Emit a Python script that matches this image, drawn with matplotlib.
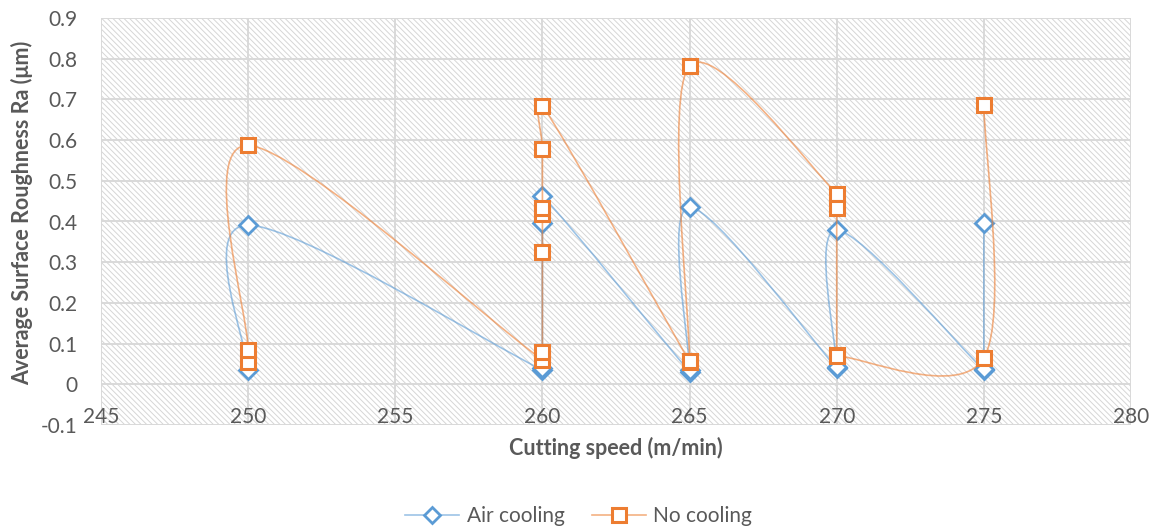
import numpy as np
import matplotlib
matplotlib.use("Agg")
import matplotlib.pyplot as plt
from matplotlib.path import Path
from matplotlib.patches import PathPatch, Rectangle
from matplotlib.lines import Line2D

# surface roughness measurements, in the order they were recorded
speed_air = [250, 250, 260, 260, 260, 260, 265, 265, 265, 270, 270, 270, 275, 275, 275]
ra_air = [0.035, 0.391, 0.035, 0.040, 0.397, 0.463, 0.030, 0.035, 0.435,
          0.040, 0.043, 0.379, 0.035, 0.037, 0.397]

speed_no = [250, 250, 250, 260, 260, 260, 260, 260, 260, 260,
            265, 265, 265, 270, 270, 270, 270, 275, 275]
ra_no = [0.055, 0.085, 0.587, 0.060, 0.079, 0.326, 0.418, 0.433, 0.578, 0.685,
         0.055, 0.057, 0.782, 0.468, 0.432, 0.072, 0.070, 0.065, 0.686]

x_ticks = [245, 250, 255, 260, 265, 270, 275, 280]
y_ticks = [-0.1, 0, 0.1, 0.2, 0.3, 0.4, 0.5, 0.6, 0.7, 0.8, 0.9]
y_tick_labels = ["-0.1", "0", "0.1", "0.2", "0.3", "0.4", "0.5", "0.6", "0.7", "0.8", "0.9"]

BLUE = "#5B9BD5"
ORANGE = "#ED7D31"
TEXT = "#595959"
GRID = "#D9D9D9"

plt.rcParams['font.family'] = ['Lato', 'DejaVu Sans']
plt.rcParams['hatch.linewidth'] = 0.7


def smooth_path(ax, xs, ys):
    # spreadsheet-style smoothed line: cubic bezier per segment, tangents from neighbours
    pts = ax.transData.transform(np.column_stack([xs, ys]))
    n = len(pts)
    verts = [pts[0]]
    codes = [Path.MOVETO]
    for i in range(n - 1):
        p0 = pts[i - 1] if i > 0 else pts[i]
        p1 = pts[i]
        p2 = pts[i + 1]
        p3 = pts[i + 2] if i + 2 < n else pts[i + 1]
        d12 = np.linalg.norm(p2 - p1)
        d02 = np.linalg.norm(p2 - p0)
        d13 = np.linalg.norm(p3 - p1)
        f1 = f2 = 1 / 6
        if d02 > 0 and d02 / 6 > d12 / 2:
            f1 = d12 / (2 * d02)
        if d13 > 0 and d13 / 6 > d12 / 2:
            f2 = d12 / (2 * d13)
        verts += [p1 + f1 * (p2 - p0), p2 - f2 * (p3 - p1), p2]
        codes += [Path.CURVE4] * 3
    verts = ax.transData.inverted().transform(np.array(verts))
    return Path(verts, codes)


fig = plt.figure(figsize=(11.57, 5.26), dpi=100)
ax = fig.add_axes([101 / 1157, 1 - 425 / 526, 1030 / 1157, 407 / 526])
ax.set_xlim(245, 280)
ax.set_ylim(-0.1, 0.9)

# hatched plot area
ax.add_patch(Rectangle((0, 0), 1, 1, transform=ax.transAxes, facecolor="white",
                       edgecolor="#D6D6D6", hatch="\\" * 6, linewidth=0, zorder=0.1))

ax.set_axisbelow(True)
ax.grid(True, color=GRID, linewidth=1.4)
for s in ax.spines.values():
    s.set_visible(False)
ax.spines['bottom'].set_position(('data', 0))

ax.set_xticks(x_ticks)
ax.set_xticklabels([str(v) for v in x_ticks])
ax.set_yticks(y_ticks)
ax.set_yticklabels(y_tick_labels)
ax.tick_params(axis='both', length=0, labelsize=15, colors=TEXT)
ax.tick_params(axis='x', pad=16)
ax.tick_params(axis='y', pad=17)

ax.set_xlabel("Cutting speed (m/min)", fontsize=15.5, fontweight="bold", color=TEXT)
ax.xaxis.set_label_coords(0.5, -0.03)
ax.set_ylabel("Average Surface Roughness Ra (\u03bcm)", fontsize=15.5, fontweight="bold", color=TEXT)
ax.yaxis.set_label_coords(-0.066, 0.52)

# air cooling series
ax.add_patch(PathPatch(smooth_path(ax, speed_air, ra_air), facecolor="none",
                       edgecolor=BLUE, alpha=0.6, linewidth=1.2, zorder=2))
ax.plot(speed_air, ra_air, linestyle="none", marker="D", markersize=9,
        markerfacecolor="white", markeredgecolor=BLUE, markeredgewidth=2, zorder=3)

# no cooling series
ax.add_patch(PathPatch(smooth_path(ax, speed_no, ra_no), facecolor="none",
                       edgecolor=ORANGE, alpha=0.6, linewidth=1.2, zorder=4))
ax.plot(speed_no, ra_no, linestyle="none", marker="s", markersize=10.5,
        markerfacecolor="white", markeredgecolor=ORANGE, markeredgewidth=2.2, zorder=5)

handles = [
    Line2D([], [], color="#9DC3E6", linewidth=1.2, marker="D", markersize=8,
           markerfacecolor="white", markeredgecolor=BLUE, markeredgewidth=2),
    Line2D([], [], color="#F4B183", linewidth=1.2, marker="s", markersize=9.5,
           markerfacecolor="white", markeredgecolor=ORANGE, markeredgewidth=2.2),
]
fig.legend(handles, ["Air cooling", "No cooling"], loc="center", ncol=2,
           bbox_to_anchor=(0.5, 1 - 516 / 526), frameon=False, fontsize=15,
           labelcolor=TEXT, handlelength=2.6, columnspacing=1.3, handletextpad=0.35)

fig.savefig("out.png", dpi=100)
